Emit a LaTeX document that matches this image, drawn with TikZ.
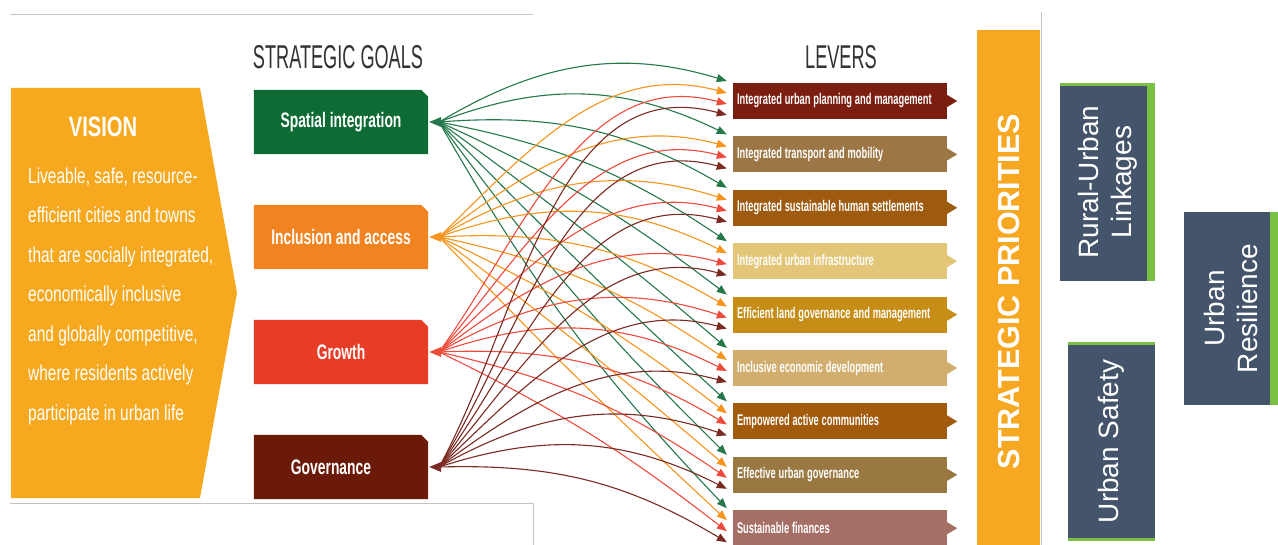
\documentclass[tikz,border=0pt]{standalone}
\usepackage{fontspec}
\setmainfont{Liberation Sans}
\newfontfamily\condT[FakeStretch=0.55]{Liberation Sans}
\newfontfamily\condG[FakeStretch=0.66]{Liberation Sans}
\newfontfamily\condL[FakeStretch=0.6]{Liberation Sans}
\newfontfamily\condV[FakeStretch=0.72]{Liberation Sans}
\usetikzlibrary{arrows.meta,calc,backgrounds}
\definecolor{vis}{HTML}{F6A91E}
\definecolor{prio}{HTML}{F7A823}
\definecolor{titlegray}{HTML}{333333}
\definecolor{frame}{HTML}{C4C4C4}
\definecolor{gGreen}{HTML}{0E6B34}
\definecolor{gOrange}{HTML}{F18421}
\definecolor{gRed}{HTML}{E73C26}
\definecolor{gBrown}{HTML}{6B1A08}
\definecolor{cGreen}{HTML}{25784A}
\definecolor{cOrange}{HTML}{F7941D}
\definecolor{cRed}{HTML}{EF4B3C}
\definecolor{cBrown}{HTML}{7B2B22}
\definecolor{lv1}{HTML}{7B1D0F}
\definecolor{lv2}{HTML}{9C7745}
\definecolor{lv3}{HTML}{9E5B10}
\definecolor{lv4}{HTML}{E3C677}
\definecolor{lv5}{HTML}{C68D17}
\definecolor{lv6}{HTML}{D1AE6E}
\definecolor{lv7}{HTML}{A25B0D}
\definecolor{lv8}{HTML}{9A7842}
\definecolor{lv9}{HTML}{A66F66}
\definecolor{slate}{HTML}{44546A}
\definecolor{lime}{HTML}{7AC143}
\begin{document}
\begin{tikzpicture}[x=1pt,y=1pt,
  goal/.style={minimum width=174, minimum height=64, inner sep=0, text=white,
    font=\condG\bfseries\fontsize{21}{24}\selectfont},
  lever/.style={minimum width=214, minimum height=36, inner sep=0, text width=206,
    align=left, text=white, font=\condL\bfseries\fontsize{15.5}{17}\selectfont},
  conn/.style={draw=#1, line width=1.1pt, -{Triangle[length=10pt,width=8pt]}},
  rbox/.style={fill=slate, rotate=90, inner sep=0, text=white, align=center,
    font=\fontsize{28}{33}\selectfont},
  frameline/.style={draw=frame, line width=1pt}]
\useasboundingbox (0,0) rectangle (1278,-545);
\begin{pgfonlayer}{background}
\fill[white] (0,0) rectangle (1278,-545);
\end{pgfonlayer}
% frame lines
\draw[frameline] (10,-15) -- (533,-15);
\draw[frameline] (10,-503) -- (533,-503) -- (533,-545);
\draw[frameline] (1041,-12) -- (1041,-545);
% vision
\fill[vis] (11,-88) -- (200,-88) -- (237,-293) -- (200,-498) -- (11,-498) -- cycle;
\node[text=white, font=\condV\bfseries\fontsize{28}{30}\selectfont] (vision) at (103,-127) {VISION};
\node[anchor=north west, inner sep=0, align=left, text=white,
  font=\condV\fontsize{21.5}{39.5}\selectfont] (vtext) at (28,-167.5)
  {Liveable, safe, resource-\\efficient cities and towns\\that are socially integrated,\\economically inclusive\\and globally competitive,\\where residents actively\\participate in urban life};
% titles
\node[font=\condT\fontsize{33}{36}\selectfont, text=titlegray] (tg) at (338,-57) {STRATEGIC GOALS};
\node[font=\condT\fontsize{33}{36}\selectfont, text=titlegray] (tl) at (841,-57) {LEVERS};
% goals
\foreach \n/\y/\c/\lc/\dx/\t in {1/122/gGreen/cGreen/0/Spatial integration,
    2/237/gOrange/cOrange/0/Inclusion and access,
    3/352/gRed/cRed/0/Growth,
    4/467/gBrown/cBrown/-20/Governance}{
  \node[goal] (G\n) at (341,-\y) {\hspace*{\dx pt}\t};
  \begin{pgfonlayer}{background}
  \fill[\c] (G\n.south west) -- (G\n.north west) -- ([xshift=-7]G\n.north east)
     -- ([yshift=-7]G\n.north east) -- (G\n.south east) -- cycle;
  \end{pgfonlayer}
  \coordinate (S\n) at ($(G\n.east)+(11,0)$);
  \fill[\lc] ($(G\n.east)+(1,0)$) -- ++(12,5) -- ++(0,-10) -- cycle;
}
% levers
\foreach \i/\c/\t in {1/lv1/Integrated urban planning and management,
    2/lv2/Integrated transport and mobility,
    3/lv3/Integrated sustainable human settlements,
    4/lv4/Integrated urban infrastructure,
    5/lv5/Efficient land governance and management,
    6/lv6/Inclusive economic development,
    7/lv7/Empowered active communities,
    8/lv8/Effective urban governance,
    9/lv9/Sustainable finances}{
  \pgfmathsetmacro\yy{-(101+53.4*(\i-1))}
  \node[lever, fill=\c] (L\i) at (840,\yy) {\spaceskip=2.8pt\relax\mbox{\t}};
  \fill[\c] ([yshift=6]L\i.east) -- ([xshift=10]L\i.east) -- ([yshift=-6]L\i.east) -- cycle;
  \foreach \g/\offp in {1/20,2/8,3/-3,4/-14}{
    \coordinate (T\g-\i) at ($(L\i.west)+(-6,\offp)$);
  }
}
% connectors
\foreach \g/\gy/\col/\offp in {1/122/cGreen/20, 2/237/cOrange/8, 3/352/cRed/-3, 4/467/cBrown/-14}{
  \foreach \i in {1,...,9}{
    \pgfmathsetmacro\myLy{101+53.4*(\i-1)-\offp}
    \pgfmathsetmacro\myC{atan2(\gy-\myLy,288)}
    \pgfmathsetmacro\myD{25-0.6*max(0,-\myC)}
    \pgfmathsetmacro\myO{\myC>0 ? \myC+\myD*(1-\myC/90) : \myC+\myD}
    \pgfmathsetmacro\myA{min(\myC-\myD,-15)+180}
    \draw[conn=\col] (S\g) to[out=\myO,in=\myA] (T\g-\i);
  }
}
% strategic priorities
\node[fill=prio, rotate=90, minimum width=523, minimum height=63, inner sep=0, text=white,
  font=\bfseries\fontsize{30.5}{32}\selectfont] (SP) at (1008.5,-291.5) {STRATEGIC PRIORITIES};
% right boxes
\node[rbox, minimum width=198, minimum height=95] (RU) at (1107.5,-182) {Rural-Urban\\Linkages};
\fill[lime] (RU.south west) rectangle ($(RU.south east)+(-8,0)$);
\fill[lime] (RU.north east) rectangle ($(RU.south east)+(0,-3)$);
\node[rbox, minimum width=199, minimum height=87] (US) at (1111.5,-441.5) {Urban Safety};
\fill[lime] (US.north east) rectangle ($(US.south east)+(0,-3)$);
\fill[lime] (US.north west) rectangle ($(US.south west)+(0,3)$);
\node[rbox, minimum width=193, minimum height=94] (UR) at (1231,-308.5) {Urban\\Resilience};
\fill[lime] (UR.south west) rectangle ($(UR.south east)+(-8,0)$);
\end{tikzpicture}
\end{document}
